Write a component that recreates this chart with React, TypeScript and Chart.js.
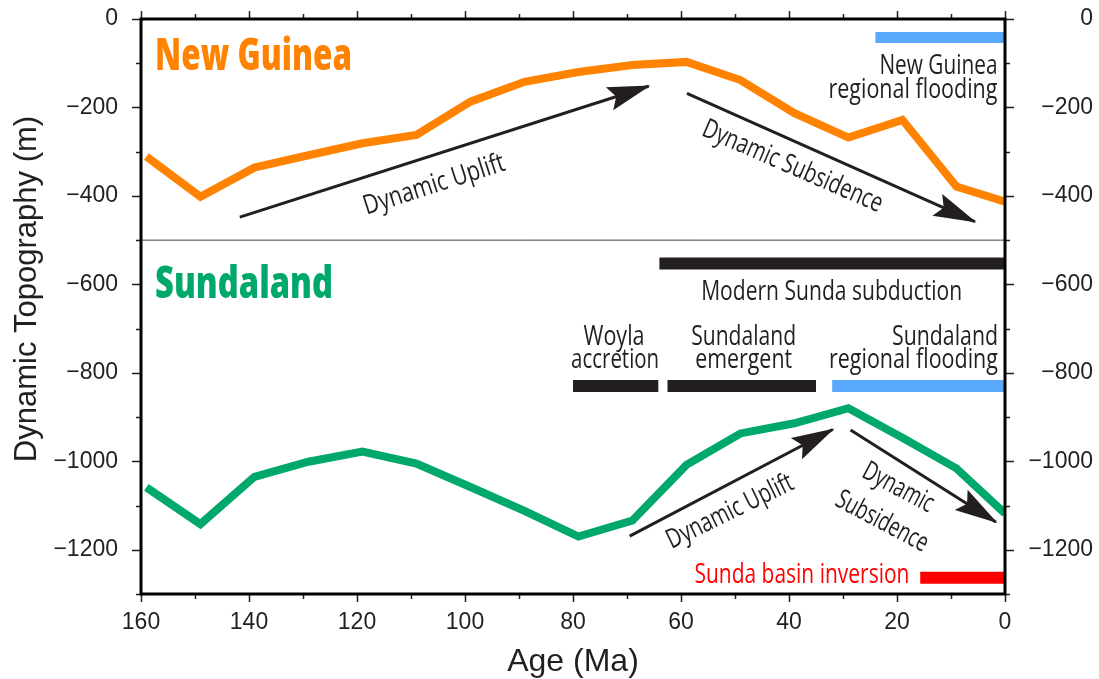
import React, { useEffect, useRef } from 'react';
import { Chart, registerables } from 'chart.js';

Chart.register(...registerables);

// ---------------- data ----------------
const ages = [159, 149, 139, 129, 119, 109, 99, 89, 79, 69, 59, 49, 39, 29, 19, 9, 0];
const newGuineaTopo = [-311, -402, -336, -308, -281, -262, -187, -142, -120, -104, -97, -138, -213, -268, -228, -379, -413];
const sundalandTopo = [-1059, -1142, -1035, -1001, -978, -1005, -1058, -1112, -1170, -1134, -1008, -937, -914, -880, -947, -1016, -1118];

const xTickLabels = [160, 140, 120, 100, 80, 60, 40, 20, 0];
const yTickLabels = [0, -200, -400, -600, -800, -1000, -1200];

// event bars (age ranges, Ma) and their topography level (m)
const barNames = ['New Guinea regional flooding', 'Modern Sunda subduction', 'Woyla accretion', 'Sundaland emergent', 'Sundaland regional flooding', 'Sunda basin inversion'];
const barStartAge = [24, 64, 80, 62.5, 32, 15.7];
const barEndAge = [0, 0, 64.2, 35, 0, 0];
const barLevel = [-42, -553, -830, -830, -830, -1263];

// dynamic uplift / subsidence arrows (tail -> tip)
const arrowNames = ['NG uplift', 'NG subsidence', 'Sunda uplift', 'Sunda subsidence'];
const arrowTailAge = [141.7, 58.9, 69.5, 28.6];
const arrowTailValue = [-448, -168, -1169, -929];
const arrowTipAge = [66.0, 5.6, 31.9, 1.7];
const arrowTipValue = [-152, -458, -928, -1137];

const dividerLevel = -500;

// ---------------- styles ----------------
const INK = '#231f20';
const ORANGE = '#ff8200';
const GREEN = '#00a86b';
const BLUE = '#58a8fb';
const RED = '#ff0000';
const barColors = [BLUE, INK, INK, INK, BLUE, RED];
const barWidths = [11, 12, 12, 12, 12, 12];
const AXIS_FONT = "'Liberation Sans', Arial, Helvetica, sans-serif";
const NOTE_FONT = "'Open Sans', 'Noto Sans', sans-serif";

type Note = {
  text: string; age: number; value: number; align: CanvasTextAlign;
  size: number; width: number; color: string; weight?: string; angle?: number; baseline?: CanvasTextBaseline;
};

const notes: Note[] = [
  { text: 'New Guinea', age: 157.4, value: -115.3, align: 'left', size: 44, width: 197, color: ORANGE, weight: '800' },
  { text: 'Sundaland', age: 157.4, value: -631.5, align: 'left', size: 44, width: 178, color: GREEN, weight: '800' },
  { text: 'New Guinea', age: 1.4, value: -124.3, align: 'right', size: 27, width: 118, color: INK },
  { text: 'regional flooding', age: 1.4, value: -178.6, align: 'right', size: 27, width: 169, color: INK },
  { text: 'Modern Sunda subduction', age: 32.1, value: -635.3, align: 'center', size: 27, width: 261, color: INK },
  { text: 'Woyla', age: 72.4, value: -737, align: 'center', size: 27, width: 61, color: INK },
  { text: 'accretion', age: 72.2, value: -789.7, align: 'center', size: 27, width: 88, color: INK },
  { text: 'Sundaland', age: 48.4, value: -737, align: 'center', size: 27, width: 105, color: INK },
  { text: 'emergent', age: 48.4, value: -789.7, align: 'center', size: 27, width: 97, color: INK },
  { text: 'Sundaland', age: 1.3, value: -737, align: 'right', size: 27, width: 106, color: INK },
  { text: 'regional flooding', age: 1.3, value: -789.7, align: 'right', size: 27, width: 169, color: INK },
  { text: 'Sunda basin inversion', age: 17.7, value: -1275.8, align: 'right', size: 27, width: 215, color: RED },
  { text: 'Dynamic Uplift', age: 105.7, value: -375.3, align: 'center', size: 27, width: 147, color: INK, angle: -17.8, baseline: 'middle' },
  { text: 'Dynamic Subsidence', age: 39.35, value: -334, align: 'center', size: 27, width: 194, color: INK, angle: 23.5, baseline: 'middle' },
  { text: 'Dynamic Uplift', age: 50.9, value: -1114, align: 'center', size: 27, width: 138, color: INK, angle: -26, baseline: 'middle' },
  { text: 'Dynamic', age: 19.8, value: -1060, align: 'center', size: 27, width: 77, color: INK, angle: 28, baseline: 'middle' },
  { text: 'Subsidence', age: 22.8, value: -1136.5, align: 'center', size: 27, width: 101, color: INK, angle: 28, baseline: 'middle' },
];

const fmtNum = (v: number) => (v === 0 ? '0' : v < 0 ? '\u2212' + Math.abs(v) : String(v));

export default function App() {
  const ref = useRef<HTMLCanvasElement>(null);

  useEffect(() => {
    const canvas = ref.current;
    if (!canvas) return;

    const series = (xs: number[], ys: number[]) => xs.map((x, i) => ({ x, y: ys[i] }));
    const datasets: any[] = [];
    datasets.push({
      label: 'New Guinea', data: series(ages, newGuineaTopo), borderColor: ORANGE, borderWidth: 8,
      pointRadius: 0, borderJoinStyle: 'miter', borderCapStyle: 'butt', tension: 0,
    });
    datasets.push({
      label: 'Sundaland', data: series(ages, sundalandTopo), borderColor: GREEN, borderWidth: 8,
      pointRadius: 0, borderJoinStyle: 'miter', borderCapStyle: 'butt', tension: 0,
    });
    const arrowStart = datasets.length;
    arrowNames.forEach((name, i) => {
      datasets.push({
        label: name, data: [{ x: arrowTailAge[i], y: arrowTailValue[i] }, { x: arrowTipAge[i], y: arrowTipValue[i] }],
        borderColor: INK, borderWidth: 3, pointRadius: 0, borderCapStyle: 'butt',
      });
    });
    barNames.forEach((name, i) => {
      datasets.push({
        label: name, data: [{ x: barStartAge[i], y: barLevel[i] }, { x: barEndAge[i], y: barLevel[i] }],
        borderColor: barColors[i], borderWidth: barWidths[i], pointRadius: 0, borderCapStyle: 'butt',
      });
    });
    datasets.push({
      label: 'divider', data: [{ x: 160, y: dividerLevel }, { x: 0, y: dividerLevel }],
      borderColor: '#444', borderWidth: 1, pointRadius: 0,
    });
    const arrowEnd = arrowStart + arrowNames.length;

    const arrowHeads = {
      id: 'arrowHeads',
      afterDatasetsDraw(chart: any) {
        const ctx = chart.ctx;
        for (let i = arrowStart; i < arrowEnd; i++) {
          const meta = chart.getDatasetMeta(i);
          const p0 = meta.data[0];
          const p1 = meta.data[1];
          const dx = p1.x - p0.x;
          const dy = p1.y - p0.y;
          const len = Math.hypot(dx, dy);
          const ux = dx / len, uy = dy / len;
          const px = -uy, py = ux;
          const L = 43, W = 12, N = 7;
          const tipX = p1.x + ux * 2, tipY = p1.y + uy * 2;
          ctx.save();
          ctx.fillStyle = INK;
          ctx.beginPath();
          ctx.moveTo(tipX, tipY);
          ctx.lineTo(tipX - ux * L + px * W, tipY - uy * L + py * W);
          ctx.lineTo(tipX - ux * (L - N), tipY - uy * (L - N));
          ctx.lineTo(tipX - ux * L - px * W, tipY - uy * L - py * W);
          ctx.closePath();
          ctx.fill();
          ctx.restore();
        }
      },
    };

    const frameAndText = {
      id: 'frameAndText',
      afterDraw(chart: any) {
        const ctx = chart.ctx as CanvasRenderingContext2D;
        const { left, right, top, bottom } = chart.chartArea;
        const xs = chart.scales.x;
        const ys = chart.scales.y;
        ctx.save();
        // ticks
        ctx.strokeStyle = INK;
        ctx.lineWidth = 1.5;
        ctx.beginPath();
        for (let v = 0; v >= -1300; v -= 100) {
          const y = Math.round(ys.getPixelForValue(v)) + 0.5;
          const l = v % 200 === 0 ? 9 : 5;
          ctx.moveTo(left - l, y); ctx.lineTo(left, y);
          ctx.moveTo(right, y); ctx.lineTo(right + l, y);
        }
        for (let a = 0; a <= 160; a += 10) {
          const x = Math.round(xs.getPixelForValue(a)) + 0.5;
          const l = a % 20 === 0 ? 8 : 5;
          ctx.moveTo(x, top - l); ctx.lineTo(x, top);
          ctx.moveTo(x, bottom); ctx.lineTo(x, bottom + l);
        }
        ctx.stroke();
        // frame
        ctx.lineWidth = 3;
        ctx.strokeStyle = '#000';
        ctx.strokeRect(left, top, right - left, bottom - top);

        // axis titles
        ctx.fillStyle = INK;
        ctx.font = `31px ${AXIS_FONT}`;
        ctx.textAlign = 'center';
        ctx.textBaseline = 'alphabetic';
        ctx.save();
        ctx.translate(36, 289);
        ctx.rotate(-Math.PI / 2);
        ctx.fillText('Dynamic Topography (m)', 0, 0);
        ctx.restore();
        ctx.font = `32px ${AXIS_FONT}`;
        ctx.fillText('Age (Ma)', (left + right) / 2, 671);

        // annotations
        for (const n of notes) {
          const x = xs.getPixelForValue(n.age);
          const y = ys.getPixelForValue(n.value);
          ctx.save();
          ctx.font = `${n.weight || '500'} ${n.size}px ${NOTE_FONT}`;
          const w = ctx.measureText(n.text).width;
          ctx.translate(x, y);
          if (n.angle) ctx.rotate((n.angle * Math.PI) / 180);
          ctx.scale(n.width / w, 1);
          ctx.fillStyle = n.color;
          ctx.textAlign = n.align;
          ctx.textBaseline = n.baseline || 'alphabetic';
          ctx.fillText(n.text, 0, 0);
          ctx.restore();
        }
        ctx.restore();
      },
    };

    const yTicks = (side: 'left' | 'right') => ({
      type: 'linear',
      position: side,
      min: -1300,
      max: 0,
      afterFit: (s: any) => {
        s.width = side === 'left' ? 141 : 88;
        s.paddingTop = 0;
        s.paddingBottom = 0;
      },
      grid: { display: true, drawOnChartArea: false, drawTicks: false },
      border: { display: false },
      afterBuildTicks: (s: any) => {
        const t: any[] = [];
        for (let v = 0; v >= -1300; v -= 100) t.push({ value: v });
        s.ticks = t;
      },
      ticks: {
        autoSkip: false,
        padding: side === 'left' ? 23 : 21,
        crossAlign: side === 'left' ? 'near' : 'far',
        color: INK,
        font: { family: AXIS_FONT, size: 23 },
        callback: (v: any) => (yTickLabels.includes(Number(v)) ? fmtNum(Number(v)) : ''),
      },
    });

    const chart = new Chart(canvas, {
      type: 'line',
      data: { datasets },
      options: {
        animation: false,
        responsive: false,
        devicePixelRatio: 1,
        layout: { padding: { top: 19, right: 6, left: 0, bottom: 0 } },
        plugins: { legend: { display: false }, tooltip: { enabled: false } },
        elements: { point: { radius: 0 }, line: { tension: 0 } },
        scales: {
          x: {
            type: 'linear',
            position: 'bottom',
            reverse: true,
            min: 0,
            max: 160,
            afterFit: (s: any) => {
              s.height = 85;
              s.paddingLeft = 0;
              s.paddingRight = 0;
            },
            grid: { display: true, drawOnChartArea: false, drawTicks: false },
            border: { display: false },
            afterBuildTicks: (s: any) => {
              const t: any[] = [];
              for (let a = 0; a <= 160; a += 10) t.push({ value: a });
              s.ticks = t;
            },
            ticks: {
              autoSkip: false,
              maxRotation: 0,
              padding: 15,
              color: INK,
              font: { family: AXIS_FONT, size: 23 },
              callback: (v: any) => (xTickLabels.includes(Number(v)) ? String(v) : ''),
            },
          },
          y: yTicks('left') as any,
          y2: yTicks('right') as any,
        },
      } as any,
      plugins: [arrowHeads, frameAndText],
    });

    return () => chart.destroy();
  }, []);

  return (
    <div style={{ position: 'absolute', left: 0, top: 0, width: 1099, height: 679, background: '#fff' }}>
      <canvas ref={ref} width={1099} height={679} style={{ display: 'block' }} />
    </div>
  );
}
